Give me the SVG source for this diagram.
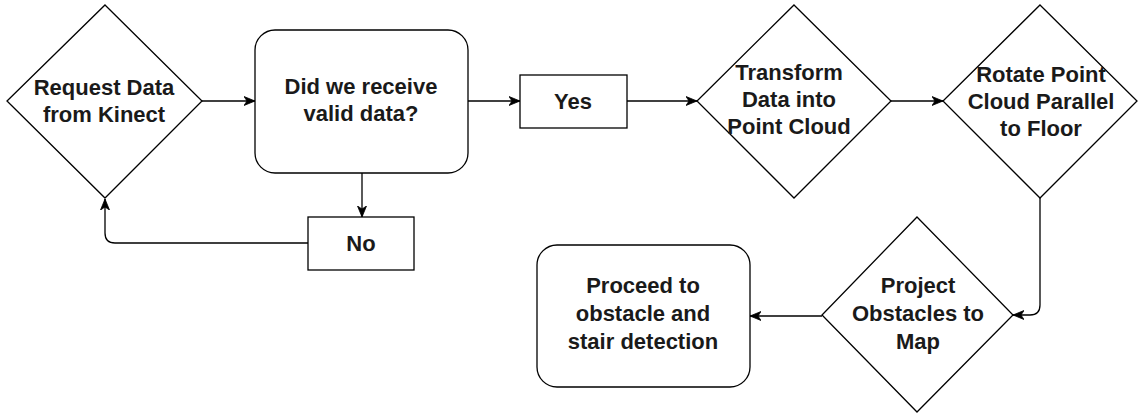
<svg xmlns="http://www.w3.org/2000/svg" width="1139" height="415" viewBox="0 0 1139 415">
  <style>
    .shape { fill: #ffffff; stroke: #000000; stroke-width: 1.3; }
    .link { fill: none; stroke: #000000; stroke-width: 1.3; }
    .label { font-family: "Liberation Sans", Arial, Helvetica, sans-serif; font-size: 22px; font-weight: bold; fill: #1a1a1a; text-anchor: middle; }
  </style>
  <defs>
    <marker id="arrow" viewBox="0 0 12 10" markerWidth="12" markerHeight="10" refX="11" refY="5" orient="auto" markerUnits="userSpaceOnUse">
      <path d="M0,0.5 L11,5 L0,9.5 L3,5 Z" fill="#000000" stroke="#000000" stroke-width="0.8" stroke-linejoin="miter"/>
    </marker>
  </defs>
  <rect width="1139" height="415" fill="#ffffff"/>

  <!-- connectors -->
  <g id="connectors">
    <path class="link" d="M202,101 L255,101" marker-end="url(#arrow)"/>
    <path class="link" d="M468,101 L520,101" marker-end="url(#arrow)"/>
    <path class="link" d="M627,101 L697,101" marker-end="url(#arrow)"/>
    <path class="link" d="M891,101 L943,101" marker-end="url(#arrow)"/>
    <path class="link" d="M362,173 L362,217" marker-end="url(#arrow)"/>
    <path class="link" d="M308,243 L115,243 Q105,243 105,233 L105,199" marker-end="url(#arrow)"/>
    <path class="link" d="M1040,198 L1040,305 Q1040,315 1030,315 L1013,315" marker-end="url(#arrow)"/>
    <path class="link" d="M822,316 L750,316" marker-end="url(#arrow)"/>
  </g>

  <!-- request data -->
  <g id="request-data">
    <polygon class="shape" points="105,5 202,101 105,198 7,101"/>
    <text class="label" x="104" y="95">Request Data</text>
    <text class="label" x="104" y="122">from Kinect</text>
  </g>

  <!-- validity check -->
  <g id="valid-check">
    <rect class="shape" x="255" y="30" width="213" height="143" rx="20" ry="20"/>
    <text class="label" x="361" y="94">Did we receive</text>
    <text class="label" x="361" y="121">valid data?</text>
  </g>

  <!-- yes branch -->
  <g id="yes">
    <rect class="shape" x="520" y="75" width="107" height="53"/>
    <text class="label" x="573" y="109">Yes</text>
  </g>

  <!-- no branch -->
  <g id="no">
    <rect class="shape" x="308" y="217" width="106" height="53"/>
    <text class="label" x="361" y="251">No</text>
  </g>

  <!-- transform -->
  <g id="transform">
    <polygon class="shape" points="794,5 891,101 794,198 697,101"/>
    <text class="label" x="789" y="80">Transform</text>
    <text class="label" x="789" y="107">Data into</text>
    <text class="label" x="789" y="134">Point Cloud</text>
  </g>

  <!-- rotate -->
  <g id="rotate">
    <polygon class="shape" points="1040,5 1137,101 1040,198 943,101"/>
    <text class="label" x="1041" y="82">Rotate Point</text>
    <text class="label" x="1041" y="109">Cloud Parallel</text>
    <text class="label" x="1041" y="136">to Floor</text>
  </g>

  <!-- project -->
  <g id="project">
    <polygon class="shape" points="917,217 1013,315 917,412 822,315"/>
    <text class="label" x="918" y="293">Project</text>
    <text class="label" x="918" y="321">Obstacles to</text>
    <text class="label" x="918" y="349">Map</text>
  </g>

  <!-- proceed -->
  <g id="proceed">
    <rect class="shape" x="537" y="245" width="213" height="142" rx="20" ry="20"/>
    <text class="label" x="643" y="293">Proceed to</text>
    <text class="label" x="643" y="321">obstacle and</text>
    <text class="label" x="643" y="349">stair detection</text>
  </g>
</svg>
